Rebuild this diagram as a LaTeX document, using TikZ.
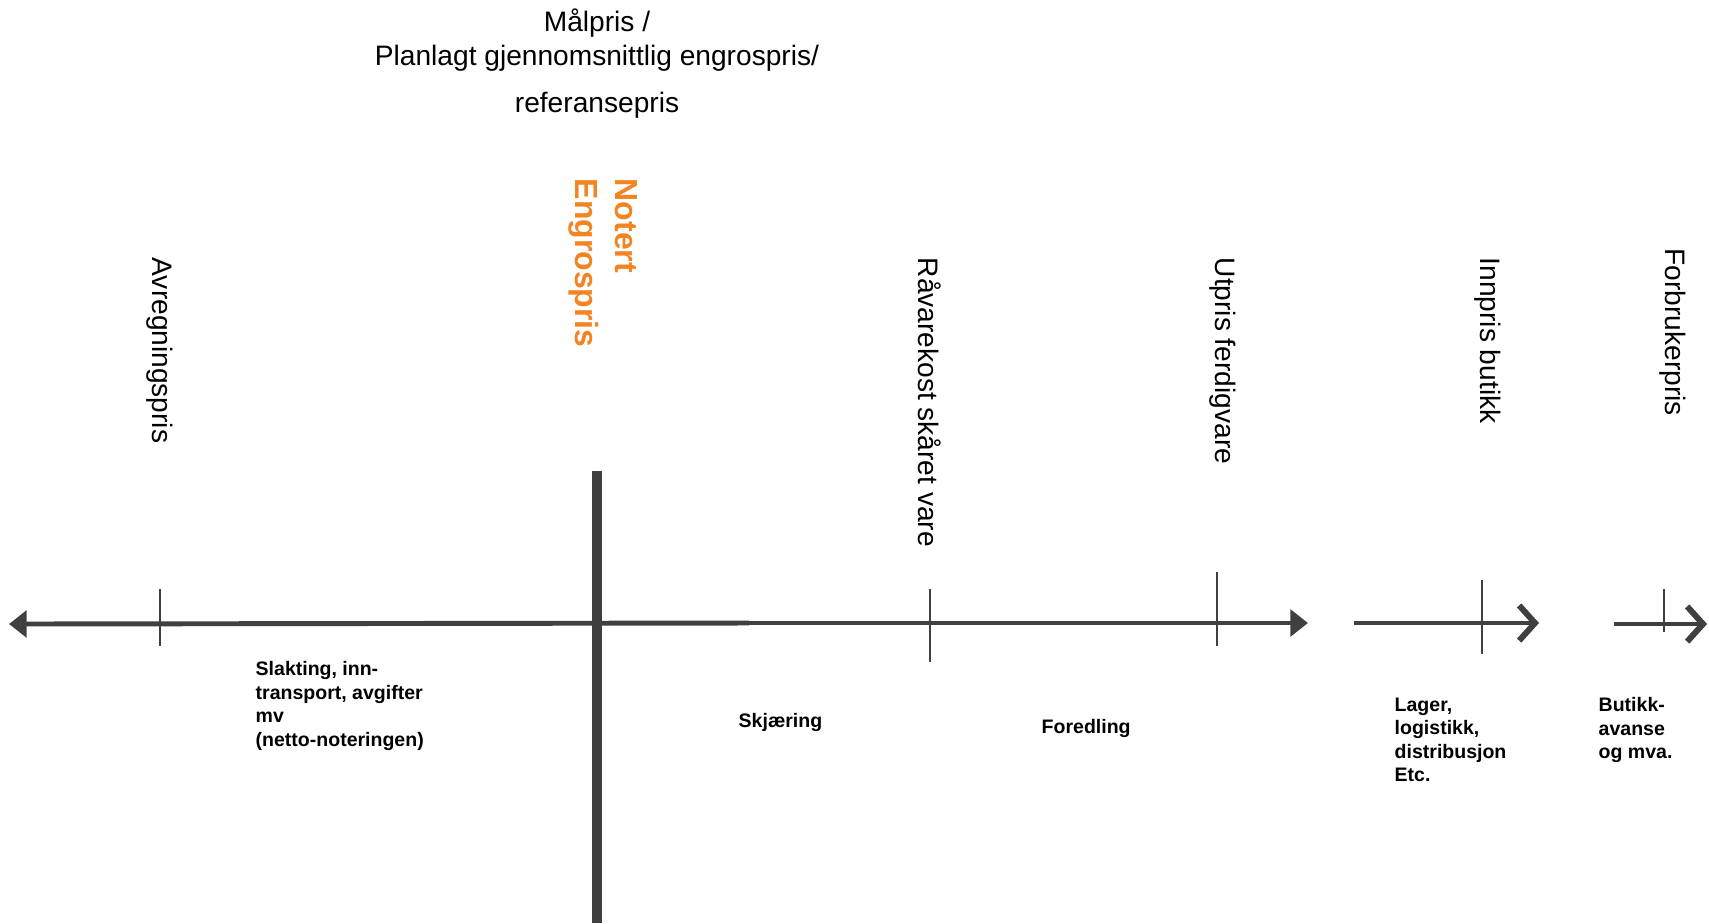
\documentclass[tikz,border=0pt]{standalone}
\usepackage{fontspec}
\setmainfont{Liberation Sans}
\usetikzlibrary{arrows.meta}
\definecolor{axisgray}{RGB}{64,64,64}
\definecolor{notertorange}{RGB}{242,133,34}
\tikzset{
    axisline/.style={draw=axisgray, line width=1.4pt},
    tickline/.style={draw=axisgray, line width=0.45pt},
    pricelabel/.style={rotate=-90, anchor=west, inner sep=0pt, font=\fontsize{8}{9.6}\selectfont},
    costlabel/.style={anchor=north west, align=left, inner sep=0pt, font=\fontsize{5.55}{6.7}\selectfont\bfseries},
    titletext/.style={align=center, inner sep=0pt, font=\fontsize{8}{9.7}\selectfont}
}
\begin{document}
\begin{tikzpicture}[x=0.01cm, y=-0.01cm]
                \useasboundingbox (0,0) rectangle (1709,923);
                % title
                \node[titletext] (malpris) at (597,40) {Målpris /\\Planlagt gjennomsnittlig engrospris/};
                \node[titletext] (refpris) at (597,105) {referansepris};
                % axis
                \coordinate (leftend) at (9,624);
                \coordinate (joint) at (749,623);
                \coordinate (rightend) at (1308,623);
                \coordinate (lagerstart) at (1354,623);
                \coordinate (lagerend) at (1539,623);
                \coordinate (butikkstart) at (1614,624);
                \coordinate (butikkend) at (1707,624);
                \draw[axisline, -{Triangle[length=5pt,width=7.5pt]}] (joint) -- (leftend);
                \draw[axisline, -{Triangle[length=5pt,width=7.5pt]}] (joint) -- (rightend);
                \draw[axisline, -{Straight Barb[length=4.5pt,width=10pt,line width=1.7pt]}] (lagerstart) -- (lagerend);
                \draw[axisline, -{Straight Barb[length=4.5pt,width=10pt,line width=1.7pt]}] (butikkstart) -- (butikkend);
                \foreach \x/\top/\bot in {160/589/646, 930/589/662, 1217/572/646, 1482/580/654, 1664/589/632} {
                    \draw[tickline] (\x,\top) -- (\x,\bot);
                }
                \coordinate (bartop) at (597,471);
                \coordinate (barbottom) at (597,923);
                \draw[axisgray, line width=3.1pt] (bartop) -- (barbottom);
                % prices
                \node[pricelabel] (avregning) at (160,257) {Avregningspris};
                \node[pricelabel, align=left, text=notertorange, font=\fontsize{9.1}{11.4}\selectfont\bfseries] (notert) at (603,178) {Notert\\Engrospris};
                \node[pricelabel] (ravarekost) at (930,257) {Råvarekost skåret vare};
                \node[pricelabel] (utpris) at (1223,257) {Utpris ferdigvare};
                \node[pricelabel] (innpris) at (1488,257) {Innpris butikk};
                \node[pricelabel] (forbruker) at (1673,248) {Forbrukerpris};
                % costs
                \node[costlabel] (slakting) at (255,661) {Slakting, inn-\\transport, avgifter\\mv\\(netto-noteringen)};
                \node[costlabel] (skjaering) at (738,713) {Skjæring};
                \node[costlabel] (foredling) at (1041,719) {Foredling};
                \node[costlabel] (lager) at (1394,697) {Lager,\\logistikk,\\distribusjon\\Etc.};
                \node[costlabel] (butikk) at (1598,697) {Butikk-\\avanse\\og mva.};
            \end{tikzpicture}
\end{document}
